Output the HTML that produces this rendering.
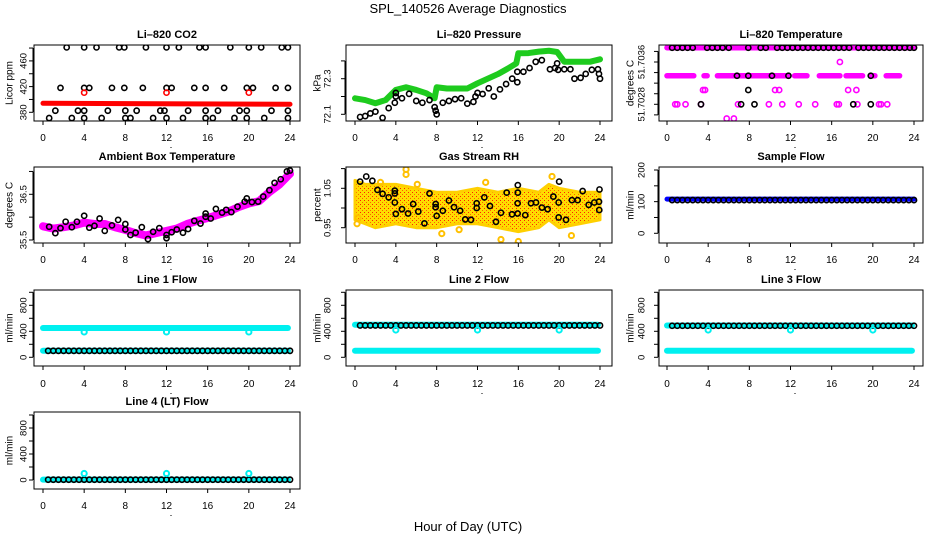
<!DOCTYPE html>
<html><head><meta charset="utf-8"><style>
html,body{margin:0;padding:0;background:#fff;}
svg{display:block;font-family:"Liberation Sans",sans-serif;}
</style></head><body>
<svg id="c" width="936" height="540" xmlns="http://www.w3.org/2000/svg"></svg>
<script>
// ---------- data ----------
const xTicks=[0,4,8,12,16,20,24];
// CO2
const co2BandX=[0,24], co2BandY=[394,392.5];
const co2RedX=[4,12,20], co2RedY=[410.6,410.6,410.6];
const co2TopX=[2.3,4,5.2,7.4,7.9,10,12,13.2,15.2,15.8,18.2,20,21.2,23.2,23.8];
const co2MidX=[1.7,4,4.5,6.7,7.9,9.7,12,12.5,14.7,15.8,17.6,19.8,20.4,22.6,23.8];
const co2LowX=[1.2,3.4,4,6.3,8,9.1,11.4,11.8,14.1,15.8,17,19.1,19.8,22.2,23.8];
const co2BotX=[0.6,2.8,4,5.7,8,8.5,10.7,12,13.6,15.8,16.5,18.6,19.8,21.5,23.8];
const co2Levels=[481,418,382.5,371];
// Pressure
const presBandX=[0,1,2,3,4,5,6,7,7.8,8,9,10,11,12,13,14,15,15.8,16,17,18,19,19.8,20.5,21,22,23,24];
const presBandY=[72.19,72.18,72.162,72.18,72.237,72.252,72.237,72.218,72.19,72.252,72.245,72.245,72.245,72.274,72.30,72.326,72.358,72.386,72.443,72.444,72.452,72.457,72.45,72.395,72.395,72.395,72.395,72.409];
const presPtX=[0.5,1,1.5,2,2.7,3.3,3.9,4,4,4.6,5.3,6,6.6,7.3,7.8,7.9,8,8.6,9.2,9.8,10.4,11,11.6,11.8,12,12.5,13.1,13.6,14.2,14.8,15.4,15.9,15.9,16.5,17.1,17.7,18.3,19.1,19.6,19.8,19.9,20.5,21.1,21.5,22.1,22.6,23.2,23.8,23.9,24];
const presPtY=[72.085,72.09,72.105,72.115,72.08,72.135,72.165,72.2,72.22,72.19,72.215,72.175,72.165,72.18,72.14,72.12,72.1,72.165,72.175,72.185,72.19,72.16,72.17,72.2,72.22,72.214,72.246,72.2,72.24,72.27,72.30,72.339,72.28,72.339,72.36,72.395,72.404,72.353,72.36,72.386,72.35,72.353,72.353,72.30,72.305,72.327,72.35,72.353,72.327,72.30];
// Li-820 temperature (discrete levels)
const tL=[51.70387,51.70334,51.70307,51.7028,51.70253];
const tMagTopX=[0,24];
const tMagSegStart=[0,3.6,4.9,12.4,14.8,17.4,19.8,21.3];
const tMagSegEnd=[2.6,3.9,11.8,13.6,16.8,19,20.2,22.6];
const tMagL2X=[3.5,3.7,10.5,10.9,17.6,18.4];
const tMagL3X=[0.8,1,1.8,3.3,6.9,9.9,11.2,12.8,14.4,16.5,16.7,18.5,20.6,20.8,21.4];
const tMagL4X=[5.8,6.5];
const tMagExtraX=[16.8], tMagExtraY=[51.7036];
const tBlkL0X=[0.5,1,1.5,2,2.5,3.9,4.4,4.9,5.4,6,7.9,9.1,9.6,10.7,11.2,11.7,12.2,12.7,13.2,13.7,14.2,14.7,15.2,15.7,16.2,16.7,17.2,17.7,18.6,19.1,19.6,20.1,20.6,21.1,21.6,22.1,22.6,23.1,23.6,24];
const tBlkL1X=[6.8,7.9,10.2,11.8,19.8];
const tBlkL2X=[7.9];
const tBlkL3X=[3.3,7.2,8.5,18.1,19.8];
// Ambient box temp
const ambBandX=[0,1,2,3,4,5,6,7,8,9,10,11,12,13,14,15,16,17,18,19,20,21,22,23,24];
const ambBandY=[35.8,35.75,35.78,35.82,35.88,35.85,35.85,35.78,35.72,35.65,35.6,35.65,35.7,35.75,35.85,35.92,35.98,36.05,36.12,36.22,36.3,36.35,36.55,36.72,36.95];
const ambPtX=[0.6,1.2,1.7,2.2,2.8,3.3,4,4.5,5,5.5,6,6.7,7.3,8,8,8.5,9,9.6,10.2,10.7,11.3,12,12,12.5,13,13.6,14.1,14.7,15.3,15.8,15.8,16.3,16.8,17.4,17.8,18.3,18.9,19.6,19.8,20.3,20.9,21.4,22,22.5,23.1,23.7,24];
const ambPtY=[35.79,35.65,35.76,35.9,35.78,35.9,36.03,35.77,35.81,35.97,35.7,35.82,35.94,35.85,35.73,35.61,35.66,35.78,35.52,35.68,35.76,35.54,35.61,35.67,35.73,35.66,35.74,35.92,35.86,36.08,36.01,35.97,36.18,36.1,36.16,36.11,36.23,36.34,36.41,36.33,36.34,36.45,36.59,36.75,36.83,37.0,37.02];
// Gas stream RH
const rhCloudX=[0,1,2,4,6,8,10,12,14,16,18,19,20,22,24];
const rhCloudHi=[1.07,1.06,1.06,1.06,1.05,1.04,1.04,1.05,1.04,1.05,1.04,1.06,1.05,1.04,1.04];
const rhCloudLo=[0.97,0.96,0.95,0.96,0.95,0.95,0.96,0.96,0.95,0.94,0.95,0.97,0.95,0.96,0.97];
const rhOutX=[5,5,6.1,0.2,0.3,8.5,10.2,14.3,15.8,16,19.3,21.2,2.5,12.8];
const rhOutY=[1.098,1.085,1.06,0.96,0.975,0.935,0.945,0.92,0.905,0.915,1.08,0.93,1.065,1.065];
const rhPtX=[0.5,1.1,1.7,2.2,2.7,3.3,3.9,3.9,3.9,4,4.6,5.2,5.7,6.2,6.8,7.3,7.9,7.9,8,8.6,9.2,9.7,10.3,10.8,11.36,11.92,11.92,12.67,13.22,13.81,14.3,14.86,15.38,15.93,15.93,15.95,15.95,16.68,17.24,17.73,18.31,18.87,19.43,19.95,19.95,20.0,20.67,21.25,21.81,22.3,22.89,23.44,23.9,23.93,23.95];
const rhPtY=[1.067,1.08,1.069,1.046,1.036,1.027,1.044,1.037,1.014,0.985,0.997,0.986,1.01,0.991,0.961,1.037,1.01,1.002,0.98,0.993,1.019,1.002,0.993,0.971,0.97,1.012,1.0,1.027,1.005,0.965,0.988,1.039,0.984,0.986,1.012,1.039,1.058,0.982,1.012,1.014,1.001,0.997,1.029,1.014,0.976,1.067,0.97,1.02,1.02,1.043,1.008,1.014,1.016,0.995,1.047];
// Sample flow
const sfBand=108, sfBlack=105;
// Line flows
const l1Cyan=[450,100], l1Dip=390, l1Black=100;
const l2Cyan=[500,100], l2Dip=420, l2Black=490;
const l3Cyan=[490,100], l3Dip=420, l3Black=485;
const l4Cyan=[5], l4Dip=100, l4Black=5;
const dipX=[4,12,20];

// ---------- layout ----------
const NS="http://www.w3.org/2000/svg";
const svg=document.getElementById('c');
const cols=[{l:34,r:300,x0:43,x24:290,tl:24,yt:10},{l:346,r:612,x0:355,x24:600,tl:328,yt:318},{l:659,r:923,x0:667,x24:914,tl:642,yt:631}];
const rows=[{t:45,b:121,tb:38,xb:141},{t:167,b:243,tb:160,xb:263},{t:290,b:366,tb:283,xb:387},{t:412,b:489,tb:405,xb:509}];
function mk(tag,attrs,parent){const e=document.createElementNS(NS,tag);for(const k in attrs)e.setAttribute(k,attrs[k]);(parent||svg).appendChild(e);return e;}
function txt(s,x,y,size,extra,parent){const t=mk('text',Object.assign({x:x,y:y,'font-size':size,'text-anchor':'middle',fill:'#000'},extra||{}),parent);t.textContent=s;return t;}

function panel(name,col,row,title,ylab,v1,p1,v2,p2,yticks,ylabels,fmt){
  const C=cols[col],R=rows[row];
  const g=mk('g',{});
  
  
  const xs=h=>C.x0+(C.x24-C.x0)*h/24;
  const ys=v=>p1+(v-v1)*(p2-p1)/(v2-v1);
  const plot=mk('g',{'clip-path':'url(#clip'+col+row+')'},g);
  const cp=mk('clipPath',{id:'clip'+col+row},g);mk('rect',{x:C.l,y:R.t,width:C.r-C.l,height:R.b-R.t},cp);
  const box=mk('rect',{x:C.l,y:R.t,width:C.r-C.l,height:R.b-R.t,fill:'none',stroke:'#000','stroke-width':1},g);
  
  
  const tt=txt(title,(C.l+C.r)/2,R.tb,11,{'font-weight':'bold'},g);
  
  
  // x axis
  const xa=mk('g',{},g);
  
  
  xTicks.forEach(h=>{mk('line',{x1:xs(h),x2:xs(h),y1:R.b,y2:R.b+4,stroke:'#000'},xa);
    const l=txt(String(h),xs(h),R.xb,10,{},xa);
    
    });
  mk('rect',{x:xs(12)+4,y:R.xb+6,width:1,height:1,fill:'#000'},xa);
  // y axis
  const ya=mk('g',{},g);
  
  
  const yt=yticks.map(ys);
  mk('line',{x1:C.l-1,x2:C.l-1,y1:Math.min(...yt),y2:Math.max(...yt),stroke:'#000'},ya);
  yticks.forEach((v,i)=>{const y=ys(v);mk('line',{x1:C.l-5,x2:C.l-1,y1:y,y2:y,stroke:'#000'},ya);
    if(ylabels.includes(v)){const l=txt(fmt(v),C.tl,y,9.5,{transform:'rotate(-90 '+C.tl+' '+y+')','dominant-baseline':'middle'},ya);
      
      }});
  const yl=txt(ylab,C.yt,(R.t+R.b)/2,10,{transform:'rotate(-90 '+C.yt+' '+((R.t+R.b)/2)+')','dominant-baseline':'middle'},g);
  
  
  return {xs,ys,plot};
}
function circ(P,x,v,color,nm,sw){const c=mk('circle',{cx:P.xs(x),cy:P.ys(v),r:2.6,fill:'none',stroke:color,'stroke-width':sw||1.6},P.plot);
  
  return c;}
function band(P,X,Y,color,w,nm){const pts=X.map((x,i)=>P.xs(x)+','+P.ys(Y[i])).join(' ');
  const l=mk('polyline',{points:pts,fill:'none',stroke:color,'stroke-width':w,'stroke-linecap':'round','stroke-linejoin':'round'},P.plot);
  
  return l;}
function halfHours(){const a=[];for(let i=1;i<=48;i++)a.push(i/2);return a;}

// main titles
const mt=txt('SPL_140526  Average Diagnostics',468,13,13);


const xt=txt('Hour of Day (UTC)',468,531,13);



const f0=v=>String(v);
// CO2
let P=panel('co2',0,0,'Li\u2013820 CO2','Licor ppm',380,112.3,460,60.9,[380,400,420,440,460,480],[380,420,460],f0);
band(P,co2BandX,co2BandY,'#f00',5,'co2-red-series');
[co2TopX,co2MidX,co2LowX,co2BotX].forEach((arr,k)=>arr.forEach(x=>circ(P,x,co2Levels[k],'#000','co2-point')));
co2RedX.forEach((x,i)=>circ(P,x,co2RedY[i],'#f00','co2-red-point'));
// Pressure
P=panel('pressure',1,0,'Li\u2013820 Pressure','kPa',72.1,114.3,72.3,78.7,[72.1,72.2,72.3,72.4],[72.1,72.3],v=>v.toFixed(1));
band(P,presBandX,presBandY,'#1ecb1e',6,'pressure-green-series');
presPtX.forEach((x,i)=>circ(P,x,presPtY[i],'#000','pressure-point'));
// Temperature
P=panel('temperature',2,0,'Li\u2013820 Temperature','degrees C',51.7028,104.3,51.7036,62,[51.7026,51.7028,51.703,51.7032,51.7034,51.7036,51.7038],[51.7028,51.7036],v=>v.toFixed(4));
band(P,tMagTopX,[tL[0],tL[0]],'#f0f',5.5,'temperature-magenta-series');
tMagSegStart.forEach((s,i)=>band(P,[s,tMagSegEnd[i]],[tL[1],tL[1]],'#f0f',5.5,'temperature-magenta-segment'));
tMagL2X.forEach(x=>circ(P,x,tL[2],'#f0f','temperature-magenta-point'));
tMagL3X.forEach(x=>circ(P,x,tL[3],'#f0f','temperature-magenta-point'));
tMagL4X.forEach(x=>circ(P,x,tL[4],'#f0f','temperature-magenta-point'));
tMagExtraX.forEach((x,i)=>circ(P,x,tMagExtraY[i],'#f0f','temperature-magenta-point'));
tBlkL0X.forEach(x=>circ(P,x,tL[0],'#000','temperature-point'));
tBlkL1X.forEach(x=>circ(P,x,tL[1],'#000','temperature-point'));
tBlkL2X.forEach(x=>circ(P,x,tL[2],'#000','temperature-point'));
tBlkL3X.forEach(x=>circ(P,x,tL[3],'#000','temperature-point'));
// Ambient
P=panel('ambient-temp',0,1,'Ambient Box Temperature','degrees C',35.5,240,36.5,194.3,[35.5,36,36.5,37],[35.5,36.5],v=>v.toFixed(1));
band(P,ambBandX,ambBandY,'#f0f',8,'ambient-magenta-series');
ambPtX.forEach((x,i)=>circ(P,x,ambPtY[i],'#000','ambient-point'));
// RH
P=panel('gas-rh',1,1,'Gas Stream RH','percent',1.05,188.3,0.95,227.7,[0.95,1,1.05,1.1],[0.95,1.05],v=>v.toFixed(2));
{const defs=mk('defs',{});const pat=mk('pattern',{id:'rhpat',width:4,height:4,patternUnits:'userSpaceOnUse'},defs);
 mk('rect',{width:4,height:4,fill:'#ffdc00'},pat);mk('rect',{width:1,height:1,fill:'#ff2000'},pat);mk('rect',{x:2,y:2,width:1,height:1,fill:'#ff6000'},pat);
 const pts=rhCloudX.map((x,i)=>P.xs(x)+','+P.ys(rhCloudHi[i])).concat(rhCloudX.slice().reverse().map((x,i)=>P.xs(x)+','+P.ys(rhCloudLo[rhCloudX.length-1-i]))).join(' ');
 const poly=mk('polygon',{points:pts,fill:'url(#rhpat)',stroke:'#ffd000','stroke-width':3,'stroke-linejoin':'round'},P.plot);
 
 }
rhOutX.forEach((x,i)=>circ(P,x,rhOutY[i],'#ffc000','rh-orange-point',2));
rhPtX.forEach((x,i)=>circ(P,x,rhPtY[i],'#000','rh-point'));
// Sample flow
P=panel('sample-flow',2,1,'Sample Flow','ml/min',0,233.3,200,170,[0,50,100,150,200],[0,100,200],f0);
band(P,[0,24],[sfBand,sfBand],'#0000ff',5,'sample-flow-blue-series');
halfHours().forEach(x=>circ(P,x,sfBlack,'#000','sample-flow-point'));
// Line flows
const fy=[0,200,400,600,800,1000], fl=[0,400,800];
function flowPanel(name,col,row,title,cy,dip,blk,p0){
  const Q=panel(name,col,row,title,'ml/min',0,p0,400,p0-26,fy,fl,f0);
  cy.forEach(v=>band(Q,[0,23.8],[v,v],'#00f0f0',6,name+'-cyan-series'));
  halfHours().forEach(x=>circ(Q,x,blk,'#000',name+'-point'));
  dipX.forEach(x=>circ(Q,x,dip,'#00f0f0',name+'-cyan-point',2));
}
flowPanel('line1-flow',0,2,'Line 1 Flow',l1Cyan,l1Dip,l1Black,357.3);
flowPanel('line2-flow',1,2,'Line 2 Flow',l2Cyan,l2Dip,l2Black,357.3);
flowPanel('line3-flow',2,2,'Line 3 Flow',l3Cyan,l3Dip,l3Black,357.3);
flowPanel('line4-flow',0,3,'Line 4 (LT) Flow',l4Cyan,l4Dip,l4Black,480);
</script>
</body></html>
